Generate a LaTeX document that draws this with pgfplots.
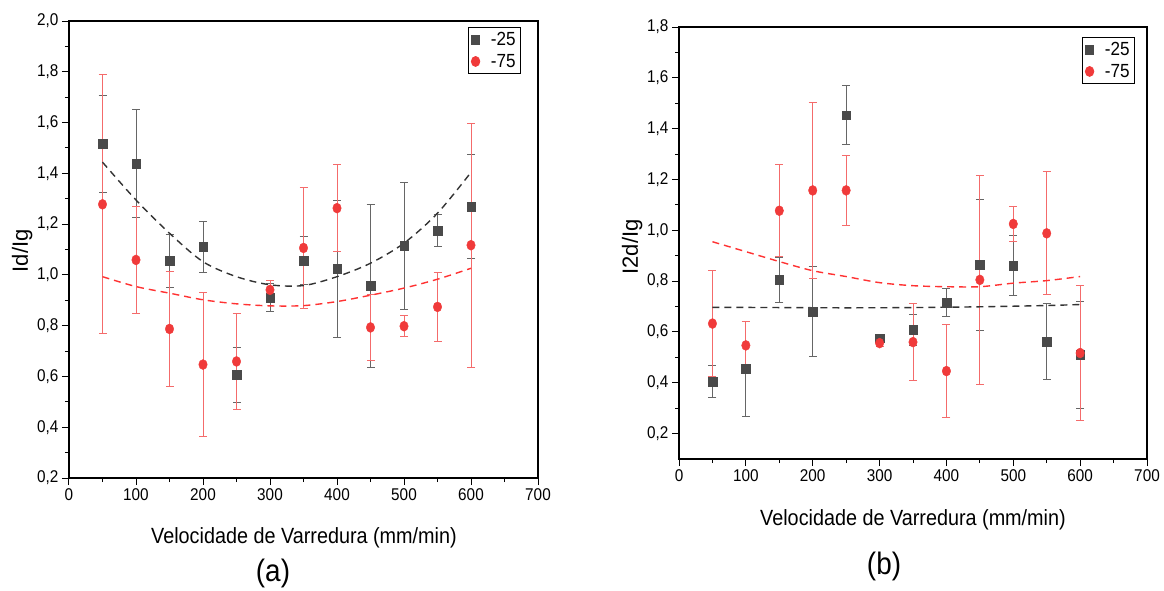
\documentclass[border=0pt]{standalone}
\usepackage{pgfplots}
\pgfplotsset{compat=1.18}
\usepackage{pgfplotstable}
\usepackage{fontspec}
\setmainfont[FakeStretch=0.9]{Liberation Sans}
\newfontfamily\ylabfont{Liberation Sans}

\definecolor{sqgray}{RGB}{74,74,74}
\definecolor{cred}{RGB}{240,58,58}
\definecolor{fitcol}{RGB}{255,50,50}

% x  y  err
\pgfplotstableread{
x y e
50 1.516 0.19
100 1.438 0.213
150 1.055 0.103
200 1.111 0.10
250 0.606 0.11
300 0.911 0.054
350 1.056 0.095
400 1.025 0.27
450 0.957 0.32
500 1.115 0.25
550 1.174 0.063
600 1.268 0.205
}\leftA
\pgfplotstableread{
x y e
50 1.278 0.51
100 1.059 0.21
150 0.787 0.225
200 0.647 0.283
250 0.659 0.19
300 0.941 0.036
350 1.106 0.24
400 1.263 0.17
450 0.793 0.13
500 0.798 0.042
550 0.874 0.135
600 1.117 0.48
}\leftB
\pgfplotstableread{
x y e
50 0.405 0.064
100 0.455 0.186
150 0.805 0.089
200 0.679 0.177
250 1.453 0.115
300 0.576 0.01
350 0.608 0.062
400 0.716 0.056
450 0.865 0.258
500 0.861 0.119
550 0.561 0.149
600 0.510 0.21
}\rightA
\pgfplotstableread{
x y e
50 0.633 0.21
100 0.547 0.093
150 1.077 0.18
200 1.157 0.347
250 1.157 0.138
300 0.556 0.015
350 0.560 0.153
400 0.446 0.184
450 0.805 0.41
500 1.025 0.07
550 0.988 0.242
600 0.517 0.265
}\rightB

\pgfplotsset{
  panel/.style={
    scale only axis,
    anchor=south west,
    xmin=0, xmax=700,
    xtick={0,100,...,700},
    minor x tick num=1,
    minor y tick num=1,
    tick align=outside,
    xtick pos=bottom, ytick pos=left,
    major tick length=7pt, minor tick length=4pt,
    tick style={line width=1pt, black},
    axis line style={line width=1.2pt},
    /pgf/number format/assume math mode=true,
    yticklabel style={/pgf/number format/.cd, use comma, fixed, fixed zerofill, precision=1},
    ticklabel style={font=\fontsize{17}{20}\selectfont},
    xlabel style={font=\fontsize{22}{26}\selectfont},
    ylabel style={font=\ylabfont\fontsize{22}{26}\selectfont},
    xlabel={Velocidade de Varredura (mm/min)},
    legend style={font=\fontsize{19}{22}\selectfont, draw=black, line width=0.8pt,
      anchor=north east, row sep=3pt, inner xsep=3pt, inner ysep=3pt,
      /tikz/every odd column/.append style={column sep=9pt}},
    legend image code/.code={\draw[#1] plot coordinates {(0.35cm,0cm)};},
    legend cell align=left,
  },
  sqser/.style={only marks, mark=square*, mark size=4.3pt,
    mark options={fill=sqgray, draw=sqgray},
    error bars/.cd, y dir=both, y explicit,
    error bar style={line width=1pt, draw=black!60},
    error mark options={rotate=90, mark size=4pt, line width=1pt, draw=black!60}},
  ciser/.style={only marks, mark=*, mark size=5pt,
    mark options={fill=cred, draw=cred, xscale=0.85},
    error bars/.cd, y dir=both, y explicit,
    error bar style={line width=1pt, draw=cred!75},
    error mark options={rotate=90, mark size=4pt, line width=1pt, draw=cred!75}},
  fitblk/.style={no marks, smooth, line width=1.4pt, black!80, dash pattern=on 7pt off 5pt, forget plot},
  fitrd/.style={no marks, smooth, line width=1.4pt, fitcol, dash pattern=on 7pt off 5pt, forget plot},
}

\begin{document}
\begin{tikzpicture}
\useasboundingbox (0,0) rectangle (1164pt,-590pt);

\begin{axis}[panel,
  at={(69pt,-478pt)}, width=469pt, height=457pt,
  ymin=0.2, ymax=2.0, ytick={0.2,0.4,...,2.01},
  ylabel={Id/Ig},
  ylabel style={at={(axis description cs:-0.100,0.497)}, anchor=center},
  xlabel style={at={(axis description cs:0.501,-0.131)}, anchor=center},
  legend style={at={(axis description cs:1,1)}, xshift=-17pt, yshift=-6pt},
]
  \addplot[sqser] table[x=x, y=y, y error=e] {\leftA};
  \addlegendentry{-25}
  \addplot[ciser] table[x=x, y=y, y error=e] {\leftB};
  \addlegendentry{-75}
  \addplot[fitblk] coordinates {
    (50,1.444) (100,1.295) (150,1.164) (200,1.052) (250,0.993) (300,0.961)
    (350,0.958) (400,0.993) (450,1.046) (500,1.125) (550,1.243) (600,1.404)
  };
  \addplot[fitrd] coordinates {
    (50,0.993) (100,0.954) (150,0.928) (200,0.902) (250,0.886) (300,0.878)
    (350,0.879) (400,0.895) (450,0.920) (500,0.948) (550,0.983) (600,1.026)
  };
\end{axis}

\begin{axis}[panel,
  at={(679pt,-459pt)}, width=468pt, height=432pt,
  ymin=0.1, ymax=1.8, ytick={0.2,0.4,...,1.81},
  ylabel={I2d/Ig},
  ylabel style={at={(axis description cs:-0.100,0.491)}, anchor=center},
  xlabel style={at={(axis description cs:0.5,-0.141)}, anchor=center},
  legend style={at={(axis description cs:1,1)}, xshift=-12pt, yshift=-10pt},
]
  \addplot[sqser] table[x=x, y=y, y error=e] {\rightA};
  \addlegendentry{-25}
  \addplot[ciser] table[x=x, y=y, y error=e] {\rightB};
  \addlegendentry{-75}
  \addplot[fitblk] coordinates {
    (50,0.697) (150,0.696) (250,0.695) (350,0.696) (450,0.699) (550,0.704) (600,0.708)
  };
  \addplot[fitrd] coordinates {
    (50,0.955) (100,0.916) (150,0.877) (200,0.841) (250,0.818) (300,0.794)
    (350,0.782) (400,0.778) (450,0.778) (500,0.792) (550,0.802) (600,0.818)
  };
\end{axis}

\node[font=\fontsize{31}{35}\selectfont] at (273pt,-573pt) {(a)};
\node[font=\fontsize{31}{35}\selectfont] at (884pt,-566pt) {(b)};
\end{tikzpicture}
\end{document}
